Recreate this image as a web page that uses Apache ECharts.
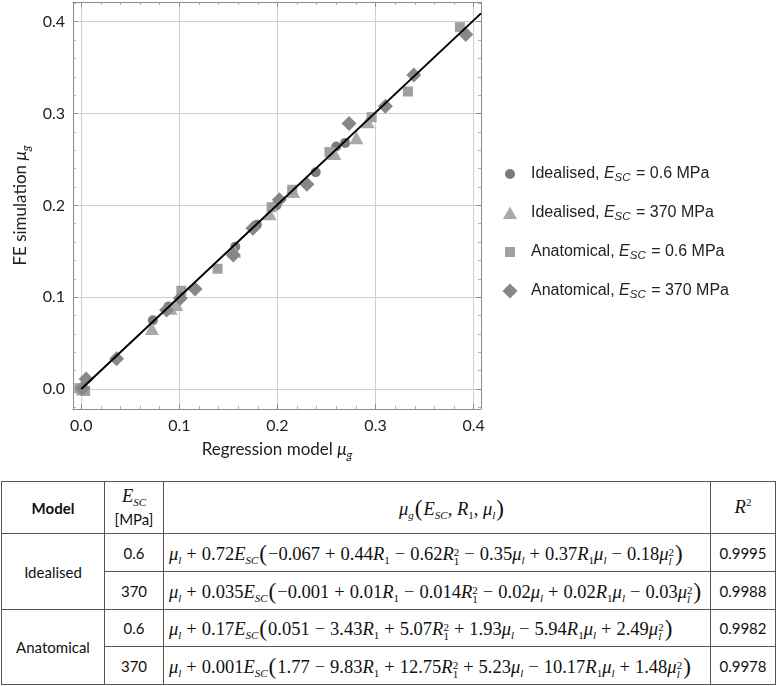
<!DOCTYPE html>
<html>
<head>
<meta charset="utf-8">
<script src="https://cdn.jsdelivr.net/npm/echarts@6/dist/echarts.min.js"></script>
<style>
  html,body{margin:0;padding:0;background:#fff;}
  #chart{position:absolute;left:0;top:0;width:777px;height:470px;}
  table.tbl{position:absolute;left:1px;top:481px;border-collapse:collapse;font-family:Lato,sans-serif;font-size:15px;color:#111;table-layout:fixed;}
  table.tbl td{border:1px solid #555;padding:0;text-align:center;vertical-align:middle;}
  .f{text-align:left !important;padding-left:5px !important;font-family:'Liberation Serif',serif;font-size:18.5px;white-space:nowrap;}
  .mh{font-family:'Liberation Serif',serif;font-size:18.5px;white-space:nowrap;}
  .sub{font-size:11px;position:relative;top:4px;font-style:italic;}
  .subn{font-size:11px;position:relative;top:4px;}
  .ss{display:inline-block;vertical-align:-5px;font-size:11px;line-height:9px;text-align:left;}
  .ss span{display:block;}
  .op{margin:0 5px;}
  .bp{font-size:23px;font-weight:100;position:relative;top:1px;margin:0 1px;}
</style>
</head>
<body>
<div id="chart"></div>
<table class="tbl" id="tbl"></table>
<script>
// ---------- chart data ----------
var seriesNames = [
  'Idealised, E_SC = 0.6 MPa',
  'Idealised, E_SC = 370 MPa',
  'Anatomical, E_SC = 0.6 MPa',
  'Anatomical, E_SC = 370 MPa'
];
var idealised06 = [[0.001,0.000],[0.073,0.075],[0.089,0.090],[0.157,0.155],[0.179,0.179],[0.199,0.200],[0.239,0.236],[0.260,0.264],[0.269,0.268]];
var idealised370 = [[0.002,0.000],[0.072,0.066],[0.091,0.088],[0.097,0.092],[0.156,0.150],[0.192,0.191],[0.216,0.215],[0.258,0.2565],[0.2805,0.2735],[0.292,0.291]];
var anatomical06 = [[0.000,0.000],[0.004,-0.002],[-0.002,0.001],[0.102,0.107],[0.139,0.131],[0.194,0.198],[0.215,0.217],[0.253,0.258],[0.296,0.296],[0.333,0.324],[0.386,0.394]];
var anatomical370 = [[0.005,0.011],[0.001,0.001],[0.036,0.033],[0.087,0.086],[0.101,0.099],[0.116,0.109],[0.155,0.146],[0.175,0.175],[0.202,0.206],[0.230,0.223],[0.273,0.289],[0.310,0.308],[0.339,0.342],[0.392,0.386]];
var fitLine = [[0,0],[0.4075,0.409]];
var xTickLabels = ['0.0','0.1','0.2','0.3','0.4'];
var yTickLabels = ['0.0','0.1','0.2','0.3','0.4'];

// ---------- table data ----------
var tblModels = ['Idealised','Anatomical'];
var tblEsc = ['0.6','370','0.6','370'];
var tblScale = [0.72, 0.035, 0.17, 0.001];
var tblCoef = [
  [-0.067, 0.44, -0.62, -0.35, 0.37, -0.18],
  [-0.001, 0.01, -0.014, -0.02, 0.02, -0.03],
  [0.051, -3.43, 5.07, 1.93, -5.94, 2.49],
  [1.77, -9.83, 12.75, 5.23, -10.17, 1.48]
];
var tblR2 = ['0.9995','0.9988','0.9982','0.9978'];

// ---------- chart ----------
var chart = echarts.init(document.getElementById('chart'), null, {renderer:'canvas'});
var FONT = 'Lato';
function tickFmt(labels){
  return function(v){
    var k = Math.round(v*10);
    if (Math.abs(v*10-k) > 1e-6) return '';
    return labels[k] !== undefined ? labels[k] : '';
  };
}
var axisCommon = {
  type:'value',
  axisLine:{show:true,onZero:false,lineStyle:{color:'#8c8c8c',width:1}},
  axisTick:{show:true,inside:true,length:5,lineStyle:{color:'#8c8c8c'}},
  minorTick:{show:true,splitNumber:5,length:3,lineStyle:{color:'#b0b0b0'}},
  splitLine:{show:false}
};
function mk(extra){ return Object.assign({}, JSON.parse(JSON.stringify(axisCommon)), extra); }
var xmin=-0.0084, xmax=0.4075, ymin=-0.0217, ymax=0.4214;

var legendIcons = [
  'path://M0 0M26 20M15 10A5 5 0 1 1 5 10A5 5 0 1 1 15 10Z',
  'path://M0 0M26 20M10 3.5L17 16L3 16Z',
  'path://M0 0M26 20M5 5L15 5L15 15L5 15Z',
  'path://M0 0M26 20M10 2.5L17.5 10L10 17.5L2.5 10Z'
];
var colors = ['#7b7b7b','#a9a9a9','#a0a0a0','#878787'];
var symbols = ['circle','triangle','rect','diamond'];
var sizes = [10,[14,13],10,15];
var datas = [idealised06, idealised370, anatomical06, anatomical370];

var series = seriesNames.map(function(n,i){
  return {name:n,type:'scatter',data:datas[i],symbol:symbols[i],symbolSize:sizes[i],
    itemStyle:{color:colors[i],opacity:1},z:2,xAxisIndex:0,yAxisIndex:0};
});
series.push({name:'fit',type:'line',data:fitLine,showSymbol:false,symbol:'none',
  lineStyle:{color:'#000',width:2},z:5,xAxisIndex:0,yAxisIndex:0,silent:true});

var option = {
  animation:false,
  backgroundColor:'#fff',
  grid:{left:73,right:296,top:2,bottom:61,containLabel:false},
  legend:{
    orient:'vertical',left:500,top:164,padding:0,itemGap:19,itemWidth:26,itemHeight:20,
    data:seriesNames.map(function(n,i){return {name:n,icon:legendIcons[i],itemStyle:{color:colors[i]}};}),
    formatter:function(name){
      var p = name.split('E_SC');
      return '{n|'+p[0]+'}{i|E}{s|SC}{n|'+p[1]+'}';
    },
    textStyle:{
      fontFamily:'Liberation Sans',fontSize:16,color:'#222',
      rich:{
        n:{fontFamily:'Liberation Sans',fontSize:16,color:'#222',lineHeight:20},
        i:{fontFamily:'Liberation Sans',fontSize:16,fontStyle:'italic',color:'#222',lineHeight:20},
        s:{fontFamily:'Liberation Sans',fontSize:11.5,fontStyle:'italic',color:'#222',lineHeight:12,verticalAlign:'bottom',padding:[0,1,0,0]}
      }
    }
  },
  xAxis:[
    mk({position:'bottom',min:xmin,max:xmax,splitNumber:5,
      splitLine:{show:true,lineStyle:{color:'#cfcfcf',width:1}},
      axisLabel:{formatter:tickFmt(xTickLabels),fontFamily:FONT,fontSize:16,color:'#222',margin:9},
      name:'{n|Regression model }{i|μ}{s|g}',nameLocation:'middle',nameGap:30,
      nameTextStyle:{fontFamily:FONT,fontSize:17,color:'#222',rich:{
        n:{fontFamily:FONT,fontSize:17,color:'#222',lineHeight:22},
        i:{fontFamily:FONT,fontSize:17,fontStyle:'italic',color:'#222',lineHeight:22},
        s:{fontFamily:FONT,fontSize:12,fontStyle:'italic',color:'#222',lineHeight:14,verticalAlign:'bottom'}
      }}
    }),
    mk({position:'top',min:xmin,max:xmax,splitNumber:5,axisLabel:{show:false}})
  ],
  yAxis:[
    mk({position:'left',min:ymin,max:ymax,splitNumber:5,
      splitLine:{show:true,lineStyle:{color:'#cfcfcf',width:1}},
      axisLabel:{formatter:tickFmt(yTickLabels),fontFamily:FONT,fontSize:16,color:'#222',margin:8},
      name:'{n|FE simulation }{i|μ}{s|g}',nameLocation:'middle',nameGap:40,nameRotate:90,
      nameTextStyle:{fontFamily:FONT,fontSize:17,color:'#222',rich:{
        n:{fontFamily:FONT,fontSize:17,color:'#222',lineHeight:22},
        i:{fontFamily:FONT,fontSize:17,fontStyle:'italic',color:'#222',lineHeight:22},
        s:{fontFamily:FONT,fontSize:12,fontStyle:'italic',color:'#222',lineHeight:14,verticalAlign:'bottom'}
      }}
    }),
    mk({position:'right',min:ymin,max:ymax,splitNumber:5,axisLabel:{show:false}})
  ],
  series:series
};
chart.setOption(option);

// ---------- table ----------
var MU_L = '<i>μ</i><span class="sub">l</span>';
var ESC = '<i>E</i><span class="sub">SC</span>';
var R1 = '<i>R</i><span class="subn">1</span>';
var R1SQ = '<i>R</i><span class="ss"><span>2</span><span>1</span></span>';
var MU_LSQ = '<i>μ</i><span class="ss"><span>2</span><span><i>l</i></span></span>';
var termHtml = ['', R1, R1SQ, MU_L, R1 + MU_L, MU_LSQ];
function num(v){ return String(Math.abs(v)); }
function formula(r){
  var s = MU_L + '<span class="op">+</span>' + num(tblScale[r]) + ESC + '<span class="bp">(</span>';
  tblCoef[r].forEach(function(c,i){
    if (i===0) s += (c<0?'−':'') + num(c) + termHtml[i];
    else s += '<span class="op">' + (c<0?'−':'+') + '</span>' + num(c) + termHtml[i];
  });
  s += '<span class="bp">)</span>';
  return s;
}
var colW = [103,59,547,65];
var rowH = [52,38,38,37,38];
var h = '<colgroup>' + colW.map(function(w){return '<col style="width:'+w+'px">';}).join('') + '</colgroup>';
h += '<tr style="height:'+rowH[0]+'px"><td><b>Model</b></td>' +
     '<td><div class="mh" style="line-height:22px;margin-top:-2px">' + ESC + '</div><div style="line-height:20px">[MPa]</div></td>' +
     '<td><span class="mh" style="margin-left:30px"><i>μ</i><span class="sub">g</span><span class="bp">(</span>' + ESC + ', ' + R1 + ', ' + MU_L + '<span class="bp">)</span></span></td>' +
     '<td><span class="mh"><i>R</i><span style="font-size:11px;position:relative;top:-7px">2</span></span></td></tr>';
for (var r=0;r<4;r++){
  h += '<tr style="height:'+rowH[r+1]+'px">';
  if (r%2===0) h += '<td rowspan="2">' + tblModels[r/2] + '</td>';
  h += '<td>' + tblEsc[r] + '</td><td class="f">' + formula(r) + '</td><td>' + tblR2[r] + '</td></tr>';
}
document.getElementById('tbl').innerHTML = h;
</script>
</body>
</html>
